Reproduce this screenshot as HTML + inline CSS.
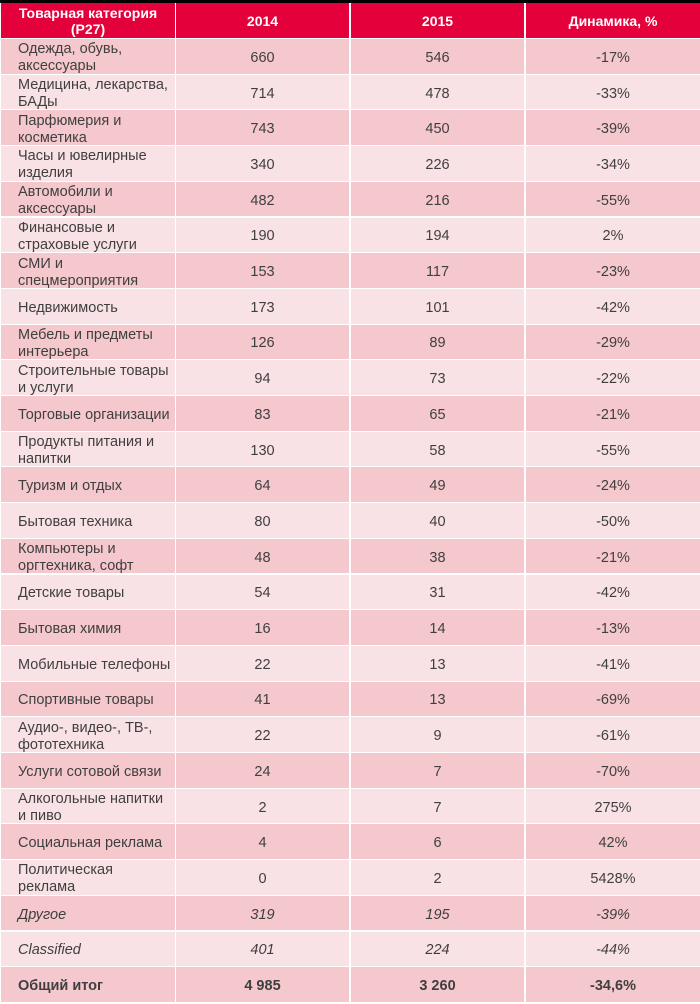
<!DOCTYPE html>
<html><head><meta charset="utf-8"><style>
body{margin:0;width:700px;height:1004px;overflow:hidden;background:#fff;font-family:"Liberation Sans",sans-serif;color:#3f3f3f;}
#t{position:absolute;left:0;top:0;width:700px;height:1004px;}
.r{position:absolute;left:0;width:700px;}
.c{position:absolute;top:0;bottom:0;display:flex;align-items:center;font-size:14.5px;line-height:17px;box-sizing:border-box;padding-top:4px;}
.c1{left:1px;width:174px;padding-left:17px;}
.c2{left:176px;width:173px;justify-content:center;}
.c3{left:351px;width:173px;justify-content:center;}
.c4{left:526px;width:174px;justify-content:center;}
.hd .c{background:#e4003a;color:#fff;font-weight:bold;font-size:14px;line-height:16px;padding-top:1px;}
.hd .c1{justify-content:center;padding-left:0;text-align:center;}
.d .c{background:#f4c8cc;}
.l .c{background:#f9e2e5;}
.it .c{font-style:italic;}
.tot .c{font-weight:bold;}
</style></head><body>
<div id="t">
<div style="position:absolute;left:0;top:0;width:700px;height:3px;background:#000"></div>
<div class="r hd" style="top:3px;height:35px">
<div class="c c1">Товарная категория<br>(Р27)</div>
<div class="c c2">2014</div>
<div class="c c3">2015</div>
<div class="c c4">Динамика, %</div>
</div>
</div>
<script>
const categories=["Одежда, обувь,<br>аксессуары","Медицина, лекарства,<br>БАДы","Парфюмерия и<br>косметика","Часы и ювелирные<br>изделия","Автомобили и<br>аксессуары","Финансовые и<br>страховые услуги","СМИ и<br>спецмероприятия","Недвижимость","Мебель и предметы<br>интерьера","Строительные товары<br>и услуги","Торговые организации","Продукты питания и<br>напитки","Туризм и отдых","Бытовая техника","Компьютеры и<br>оргтехника, софт","Детские товары","Бытовая химия","Мобильные телефоны","Спортивные товары","Аудио-, видео-, ТВ-,<br>фототехника","Услуги сотовой связи","Алкогольные напитки<br>и пиво","Социальная реклама","Политическая<br>реклама","Другое","Classified","Общий итог"];
const values2014=["660","714","743","340","482","190","153","173","126","94","83","130","64","80","48","54","16","22","41","22","24","2","4","0","319","401","4 985"];
const values2015=["546","478","450","226","216","194","117","101","89","73","65","58","49","40","38","31","14","13","13","9","7","7","6","2","195","224","3 260"];
const dynamics=["-17%","-33%","-39%","-34%","-55%","2%","-23%","-42%","-29%","-22%","-21%","-55%","-24%","-50%","-21%","-42%","-13%","-41%","-69%","-61%","-70%","275%","42%","5428%","-39%","-44%","-34,6%"];
const t=document.getElementById('t');
const rh=35.7;
categories.forEach((c,i)=>{
const r=document.createElement('div');
let cls='r '+(i%2===0?'d':'l');
if(i===24||i===25)cls+=' it';
if(i===26)cls+=' tot';
r.className=cls;
r.style.top=(39+i*rh)+'px';
r.style.height=(rh-1)+'px';


const cells=[c,values2014[i],values2015[i],dynamics[i]];
cells.forEach((v,j)=>{
const d=document.createElement('div');
d.className='c c'+(j+1);
d.innerHTML=v;


r.appendChild(d);
});
t.appendChild(r);
});
</script>
</body></html>
